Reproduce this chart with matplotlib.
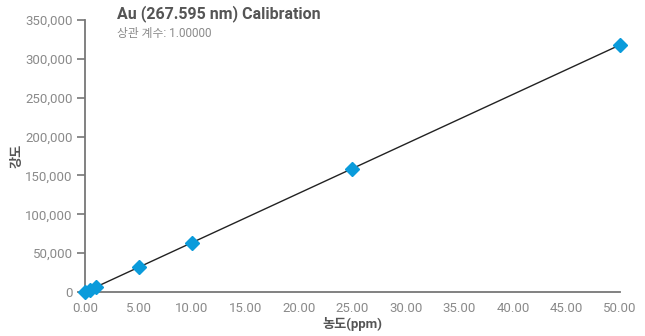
import matplotlib
matplotlib.use("Agg")
import matplotlib.pyplot as plt
from matplotlib.ticker import FuncFormatter

conc = [0.0, 0.5, 1.0, 5.0, 10.0, 25.0, 50.0]
intensity = [0, 3180, 6360, 31800, 63600, 158000, 318000]
fit_x = [0.0, 50.0]
fit_y = [0, 318000]

xticks = [0, 5, 10, 15, 20, 25, 30, 35, 40, 45, 50]
yticks = [0, 50000, 100000, 150000, 200000, 250000, 300000, 350000]

title = "Au (267.595 nm) Calibration"
subtitle = "상관 계수: 1.00000"
xlabel = "농도(ppm)"
ylabel = "강도"

fam = ["Roboto", "Noto Sans CJK KR", "DejaVu Sans"]
plt.rcParams['font.family'] = fam

fig = plt.figure(figsize=(6.45, 3.36), dpi=100)
ax = fig.add_axes([0.132, 0.131, 0.829, 0.809])

ax.plot(fit_x, fit_y, color="#222222", lw=1.0, zorder=2)
ax.plot(conc, intensity, linestyle="none", marker="D", markersize=7.5,
        color="#0A9BDB", markeredgecolor="#0A9BDB", zorder=3, clip_on=False)

ax.set_xlim(0, 50)
ax.set_ylim(0, 350000)
ax.set_xticks(xticks)
ax.set_yticks(yticks)
ax.xaxis.set_major_formatter(FuncFormatter(lambda v, p: f"{v:.2f}"))
ax.yaxis.set_major_formatter(FuncFormatter(lambda v, p: f"{int(v):,}"))

for s in ["top", "right"]:
    ax.spines[s].set_visible(False)
for s in ["left", "bottom"]:
    ax.spines[s].set_color("#777777")
    ax.spines[s].set_linewidth(1.3)

ax.tick_params(axis="y", direction="out", length=6, width=1.2, color="#777777",
               labelcolor="#8a8a8a", labelsize=9.5, pad=3)
ax.tick_params(axis="x", length=0, labelcolor="#8a8a8a", labelsize=9.5, pad=7)

ax.set_xlabel(xlabel, fontsize=9.5, fontweight="bold", color="#555555", labelpad=2)
ax.set_ylabel(ylabel, fontsize=9.5, fontweight="bold", color="#555555", labelpad=1)

fig.text(117/645, 1 - 14/336, title, fontsize=11.5, fontweight="bold",
         color="#555555", ha="left", va="center")
fig.text(117/645, 1 - 33/336, subtitle, fontsize=8.5, color="#8a8a8a",
         ha="left", va="center")

fig.savefig("out.png", dpi=100)
